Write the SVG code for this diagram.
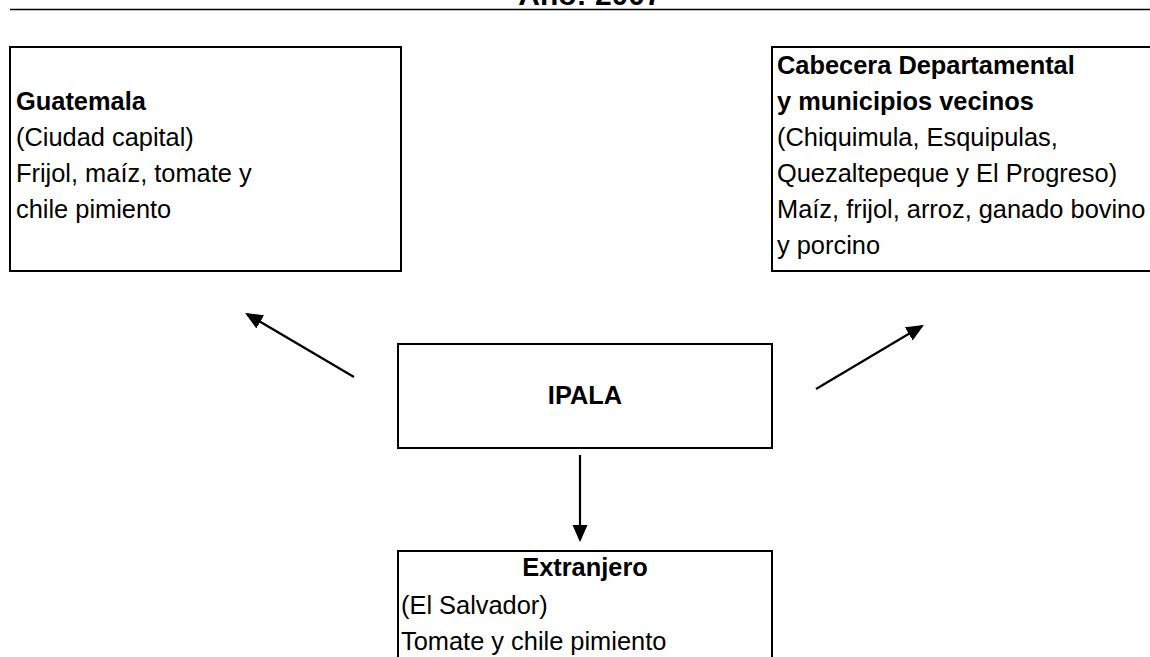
<svg xmlns="http://www.w3.org/2000/svg" width="1150" height="657" viewBox="0 0 1150 657">
<defs>
<style>
text{font-family:"Liberation Sans",Arial,sans-serif;font-size:25.4px;fill:#000}
.b{font-weight:bold}
.box{fill:#fff;stroke:#000;stroke-width:2}
.con{stroke:#000;stroke-width:2.2;fill:none}
</style>
<marker id="ah" markerWidth="8" markerHeight="7" refX="7" refY="3.5" orient="auto" markerUnits="strokeWidth">
<path d="M0,0 L8,3.5 L0,7 Z" fill="#000"/>
</marker>
</defs>
<rect width="1150" height="657" fill="#fff"/>
<text class="b" x="590" y="5" text-anchor="middle" style="font-size:30px">Año: 2007</text>
<line x1="10" y1="9.5" x2="1150" y2="9.5" stroke="#000" stroke-width="1.6"/>
<g id="guatemala">
<rect class="box" x="10" y="47" width="391" height="224"/>
<text class="b" x="16" y="110">Guatemala</text>
<text x="16" y="146">(Ciudad capital)</text>
<text x="16" y="182">Frijol, maíz, tomate y</text>
<text x="16" y="218">chile pimiento</text>
</g>
<g id="cabecera">
<rect class="box" x="772" y="47" width="400" height="224"/>
<text class="b" x="777" y="74">Cabecera Departamental</text>
<text class="b" x="777" y="110">y municipios vecinos</text>
<text x="777" y="146">(Chiquimula, Esquipulas,</text>
<text x="777" y="182">Quezaltepeque y El Progreso)</text>
<text x="777" y="218">Maíz, frijol, arroz, ganado bovino</text>
<text x="777" y="254">y porcino</text>
</g>
<g id="ipala">
<rect class="box" x="398" y="344" width="374" height="104"/>
<text class="b" x="585" y="404" text-anchor="middle">IPALA</text>
</g>
<g id="extranjero">
<rect class="box" x="398" y="551" width="374" height="120"/>
<text class="b" x="585" y="576" text-anchor="middle">Extranjero</text>
<text x="401" y="614">(El Salvador)</text>
<text x="401" y="650">Tomate y chile pimiento</text>
</g>
<g id="connectors">
<line class="con" x1="354" y1="377" x2="247" y2="314" marker-end="url(#ah)"/>
<line class="con" x1="816" y1="389" x2="922" y2="326" marker-end="url(#ah)"/>
<line class="con" x1="580" y1="455" x2="580" y2="540" marker-end="url(#ah)"/>
</g>
</svg>
